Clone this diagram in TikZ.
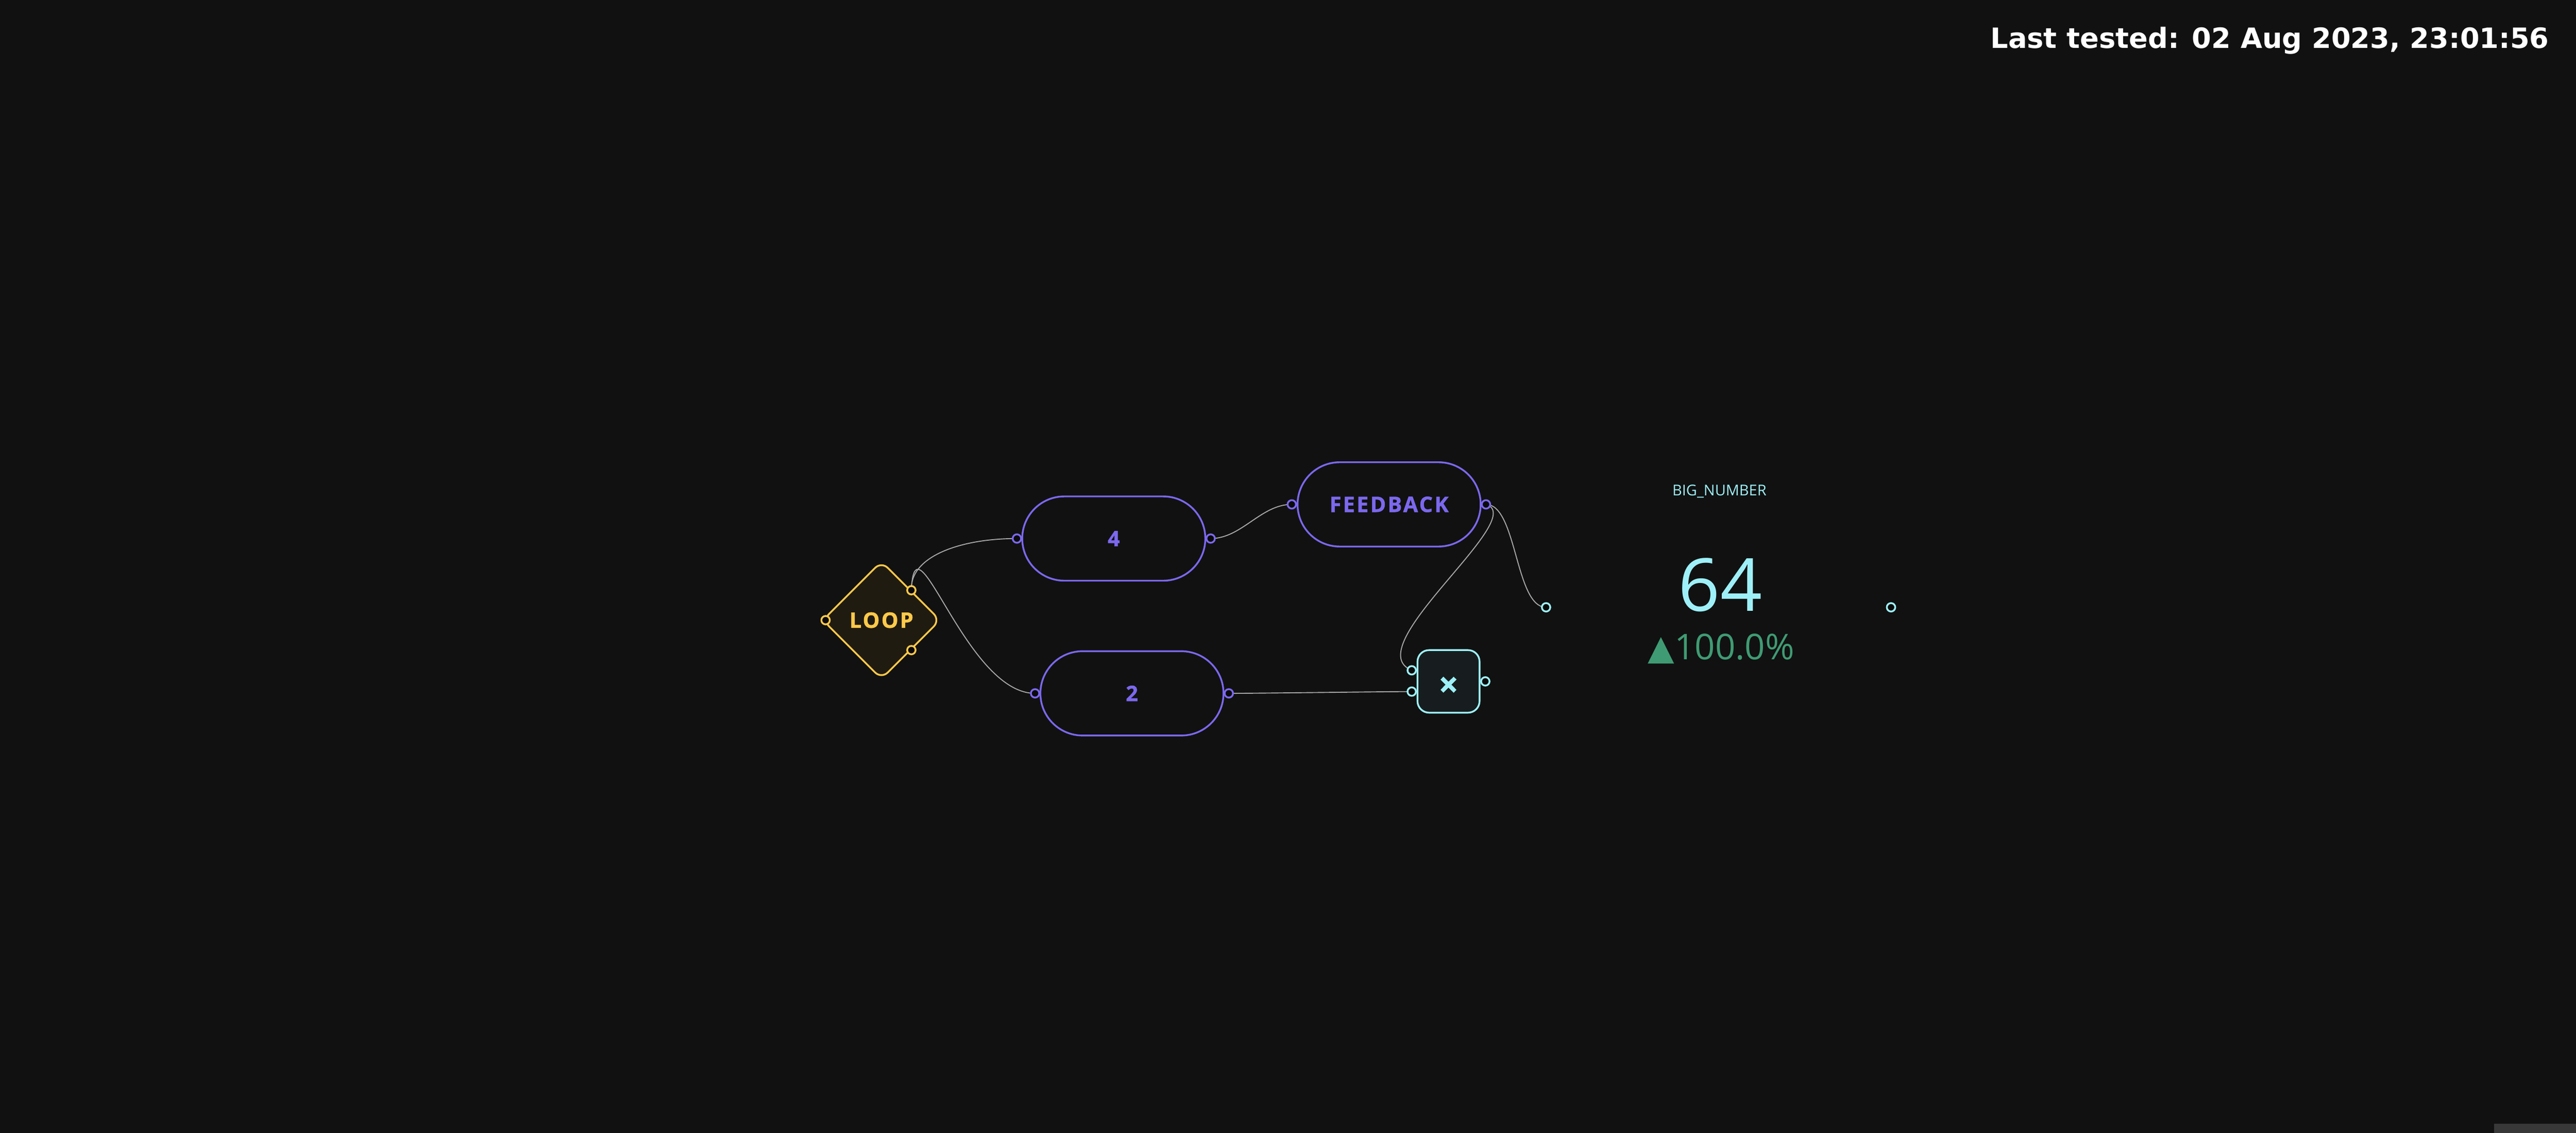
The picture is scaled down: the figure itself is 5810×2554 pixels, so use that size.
\documentclass[tikz,border=0pt]{standalone}
\usepackage{fontspec}
\usetikzlibrary{shapes.geometric,calc}
\setmainfont{Open Sans}
\newfontfamily\nodefont{Open Sans}[LetterSpace=8, BoldFeatures={FakeBold=1.2}]
\newfontfamily\osans{Open Sans}
\newfontfamily\dvs{DejaVu Sans}

\definecolor{bgc}{HTML}{111111}
\definecolor{purp}{HTML}{7B68EE}
\definecolor{yel}{HTML}{FFC94A}
\definecolor{yelfill}{HTML}{201B11}
\definecolor{cyn}{HTML}{9EF0F8}
\definecolor{cynfill}{HTML}{171D1E}
\definecolor{grn}{HTML}{3F9B73}
\definecolor{wire}{HTML}{A8A8A8}
\definecolor{portin}{HTML}{0A0A0A}
\definecolor{scrollc}{HTML}{383838}

\begin{document}
\begin{tikzpicture}[x=0.1pt,y=-0.1pt,
  stad/.style={rectangle, draw=purp, line width=0.4pt, fill=bgc, rounded corners=9.5pt,
    minimum width=41.3pt, minimum height=19pt, inner sep=0pt, text=purp,
    font=\nodefont\bfseries\fontsize{4.8}{5}\selectfont},
  loopbox/.style={diamond, draw=yel, line width=0.4pt, fill=yelfill, rounded corners=2pt,
    minimum width=26.6pt, minimum height=26.6pt, inner sep=0pt, text=yel,
    font=\nodefont\bfseries\fontsize{4.8}{5}\selectfont},
  mulbox/.style={rectangle, draw=cyn, line width=0.4pt, fill=cynfill, rounded corners=2.6pt,
    minimum width=14pt, minimum height=14.1pt, inner sep=0pt, text=cyn,
    font=\nodefont\bfseries\fontsize{7.8}{8}\selectfont},
  port/.style={circle, line width=0.4pt, fill=portin, minimum size=1.9pt, inner sep=0pt},
  wirec/.style={draw=wire, line width=0.22pt},
  plain/.style={inner sep=0pt, outer sep=0pt}
]
\fill[bgc] (0,0) rectangle (5810,2554);
\useasboundingbox (0,0) rectangle (5810,2554);
\fill[scrollc] (5625,2533) rectangle (5810,2554);

% main nodes
\node[loopbox] (loop) at (1988,1398) {LOOP};
\node[stad] (four) at (2512,1214) {4};
\node[stad] (two) at (2553,1563) {2};
\node[stad] (fb) at (3133,1137) {FEEDBACK};
\node[mulbox] (mul) at (3267,1536) {\raisebox{-3.5pt}[0pt][0pt]{×}};

% port positions
\coordinate (loopW) at ($(loop.west)+(9,0)$);
\coordinate (loopUR) at ($(loop.north)!0.5!(loop.east)$);
\coordinate (loopLR) at ($(loop.south)!0.5!(loop.east)$);
\coordinate (fourL) at ($(four.west)+(-10,0)$);
\coordinate (fourR) at ($(four.east)+(10,0)$);
\coordinate (twoL) at ($(two.west)+(-10,0)$);
\coordinate (twoR) at ($(two.east)+(10,0)$);
\coordinate (fbL) at ($(fb.west)+(-11,0)$);
\coordinate (fbR) at ($(fb.east)+(10,0)$);
\coordinate (mulUL) at ($(mul.west)+(-11,-25)$);
\coordinate (mulLL) at ($(mul.west)+(-11,23)$);
\coordinate (mulR) at ($(mul.east)+(11,0)$);
\coordinate (bigL) at (3487,1369);
\coordinate (bigR) at (4265,1369);

% connectors
\draw[wirec] (loopUR) .. controls +(-4,-75) and +(-130,0) .. (fourL);
\draw[wirec] (loopUR) .. controls +(8,-185) and +(-157,0) .. (twoL);
\draw[wirec] (fourR) .. controls +(70,0) and +(-70,0) .. (fbL);
\draw[wirec] (fbR) .. controls +(100,30) and +(-126,-51) .. (mulUL);
\draw[wirec] (fbR) .. controls +(70,0) and +(-70,0) .. (bigL);
\draw[wirec] (twoR) .. controls +(60,0) and +(-60,0) .. (mulLL);

% ports
\node[port, draw=yel] (pLoopW) at (loopW) {};
\node[port, draw=yel] (pLoopUR) at (loopUR) {};
\node[port, draw=yel] (pLoopLR) at (loopLR) {};
\node[port, draw=purp] (pFourL) at (fourL) {};
\node[port, draw=purp] (pFourR) at (fourR) {};
\node[port, draw=purp] (pTwoL) at (twoL) {};
\node[port, draw=purp] (pTwoR) at (twoR) {};
\node[port, draw=purp] (pFbL) at (fbL) {};
\node[port, draw=purp] (pFbR) at (fbR) {};
\node[port, draw=cyn] (pMulUL) at (mulUL) {};
\node[port, draw=cyn] (pMulLL) at (mulLL) {};
\node[port, draw=cyn] (pMulR) at (mulR) {};
\node[port, draw=cyn] (pBigL) at (bigL) {};
\node[port, draw=cyn] (pBigR) at (bigR) {};

% big number panel texts
\node[plain, anchor=base, text=cyn, font=\osans\fontsize{3.36}{4}\selectfont] (bigtitle) at (3878,1117) {BIG\_NUMBER};
\node[plain, anchor=base, text=cyn, font=\osans\fontsize{16.5}{18}\selectfont] (bigval) at (3880,1378) {64};
\node[plain, anchor=base, text=grn] (bigdelta) at (3882,1487) {{\dvs\fontsize{7.8}{8}\selectfont ▲}{\osans\fontsize{8}{9}\selectfont 100.0\%}};

% timestamp
\node[plain, anchor=base east, text=white, font=\dvs\bfseries\fontsize{6.3}{7}\selectfont] (stamp) at (5749,109) {Last tested: 02 Aug 2023, 23:01:56};
\end{tikzpicture}
\end{document}
